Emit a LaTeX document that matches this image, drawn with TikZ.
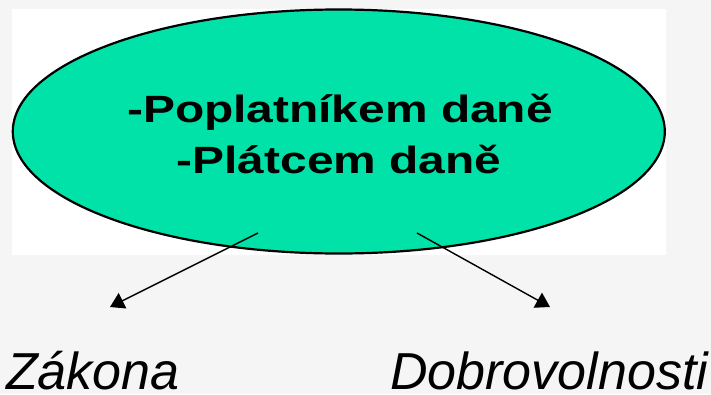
\documentclass[tikz,border=0pt]{standalone}
\usepackage{fontspec}
\setmainfont{Liberation Sans}
\usetikzlibrary{arrows.meta,shapes.geometric}
\definecolor{bggray}{RGB}{245,245,245}
\definecolor{ovalgreen}{RGB}{0,226,168}
\begin{document}
\begin{tikzpicture}[x=1pt,y=-1pt,
  oval/.style={ellipse,draw=black,line width=2.2pt,fill=ovalgreen,inner sep=0pt,minimum width=652pt,minimum height=244pt},
  maintext/.style={anchor=base,inner sep=0pt,font=\bfseries\fontsize{38}{40}\selectfont},
  labeltext/.style={anchor=base west,inner sep=0pt,font=\itshape\fontsize{52}{56}\selectfont},
  conn/.style={line width=1.4pt,-{Triangle[width=17pt,length=14pt]}}]
\fill[bggray] (0,0) rectangle (711,394);
\useasboundingbox (0,0) rectangle (711,394);
\fill[white] (12,9) rectangle (666,255);
\node[oval] (o) at (338.8,131.5) {};
\node[maintext] (t1) at (340,122) {\scalebox{1.26}[1]{-Poplatníkem daně}};
\node[maintext] (t2) at (339,173) {\scalebox{1.26}[1]{-Plátcem daně}};
\coordinate (s1) at (258,233);
\coordinate (e1) at (110,307);
\coordinate (s2) at (417,233);
\coordinate (e2) at (550,307);
\draw[conn] (s1) -- (e1);
\draw[conn] (s2) -- (e2);
\node[labeltext] (l1) at (6,389) {Zákona};
\node[labeltext] (l2) at (390,389) {Dobrovolnosti};
\end{tikzpicture}
\end{document}
